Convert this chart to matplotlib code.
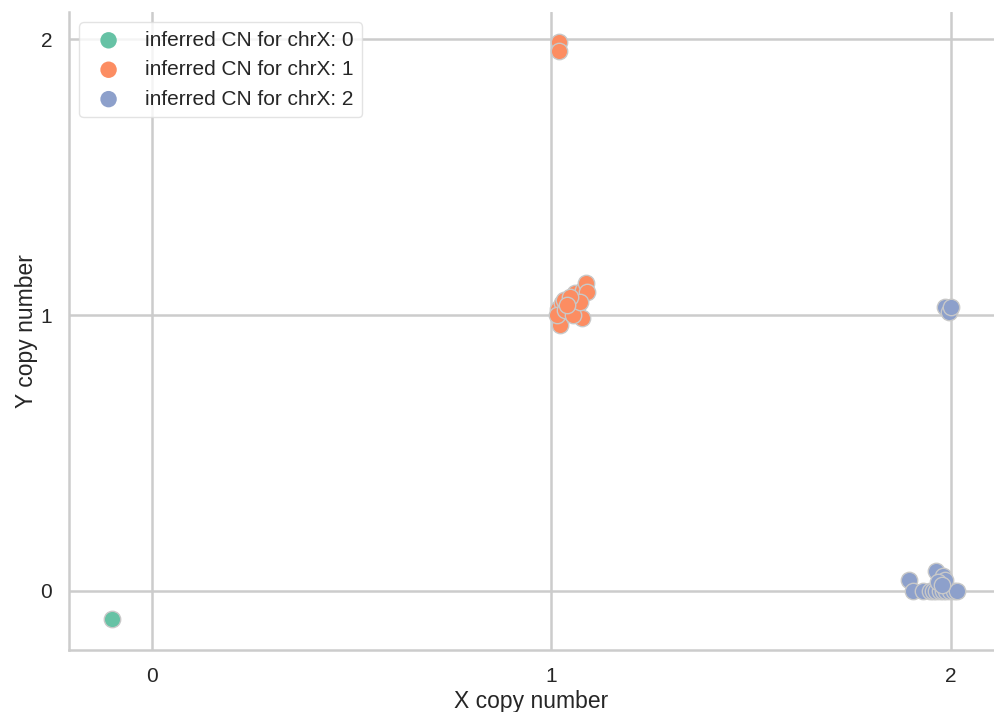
import matplotlib
matplotlib.use("Agg")
import matplotlib.pyplot as plt
import seaborn as sns

sns.set_theme(style="whitegrid")
plt.rcParams["font.family"] = ["Liberation Sans", "DejaVu Sans"]

# Inferred chrX copy-number groups
labels = ["inferred CN for chrX: 0", "inferred CN for chrX: 1", "inferred CN for chrX: 2"]
colors = sns.color_palette("Set2", 3)

x_cn0 = [-0.10]
y_cn0 = [-0.10]

x_cn1 = [1.02, 1.02, 1.016, 1.021, 1.027, 1.031, 1.014, 1.035, 1.060, 1.064,
         1.076, 1.055, 1.080, 1.087, 1.089, 1.073, 1.048, 1.040]
y_cn1 = [1.99, 1.955, 1.021, 0.964, 1.042, 1.054, 1.000, 1.018, 1.079, 1.030,
         0.988, 1.000, 1.090, 1.115, 1.084, 1.048, 1.066, 1.036]

x_cn2 = [1.985, 1.995, 2.000, 1.895, 1.905, 1.930, 1.947, 1.955, 1.963, 1.972,
         1.980, 1.989, 1.997, 2.007, 2.016, 1.964, 1.980, 1.985, 1.968, 1.977]
y_cn2 = [1.030, 1.010, 1.030, 0.040, 0.000, 0.000, 0.000, 0.000, 0.000, 0.000,
         0.000, 0.000, 0.000, 0.000, 0.000, 0.074, 0.054, 0.040, 0.034, 0.020]

fig = plt.figure(figsize=(9.94, 7.12), dpi=100)
ax = fig.add_axes([0.0694, 0.0871, 0.9306, 0.896])

for xs, ys, c, lab in zip([x_cn0, x_cn1, x_cn2], [y_cn0, y_cn1, y_cn2], colors, labels):
    ax.scatter(xs, ys, s=140, color=c, edgecolor="#c8c8c8", linewidth=1.0,
               label=lab, zorder=3)

ax.set_xlim(-0.207, 2.108)
ax.set_ylim(-0.214, 2.098)
ax.set_xticks([0, 1, 2])
ax.set_yticks([0, 1, 2])
ax.tick_params(axis="both", labelsize=15, length=0, colors="#262626")
ax.tick_params(axis="x", pad=12)
ax.tick_params(axis="y", pad=12)
ax.grid(True, color="#cccccc", linewidth=1.8)
ax.set_axisbelow(True)

for side in ["top", "right"]:
    ax.spines[side].set_visible(False)
for side in ["left", "bottom"]:
    ax.spines[side].set_color("#cccccc")
    ax.spines[side].set_linewidth(1.8)

ax.set_xlabel("X copy number", fontsize=16.5, color="#262626", labelpad=3)
ax.set_ylabel("Y copy number", fontsize=16.5, color="#262626", labelpad=2)

leg = ax.legend(loc="upper left", fontsize=15, frameon=True, framealpha=0.8,
                borderpad=0.4, handletextpad=0.75, markerscale=1.0,
                bbox_to_anchor=(0.0, 1.0))
leg.get_frame().set_edgecolor("#dddddd")
for h in leg.legend_handles:
    h.set_edgecolor("none")

fig.savefig("out.png", dpi=100)
